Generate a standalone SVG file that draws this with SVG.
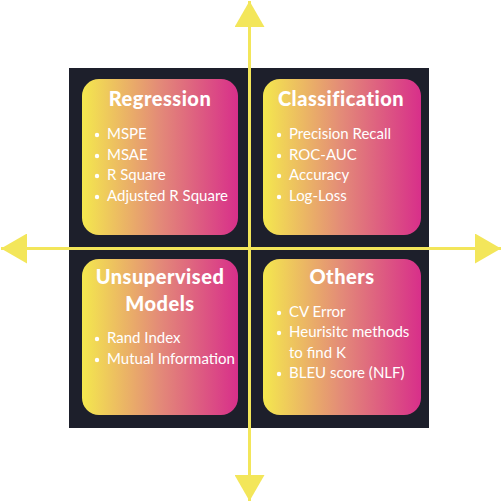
<svg xmlns="http://www.w3.org/2000/svg" width="502" height="502" viewBox="0 0 502 502">
<defs>
<linearGradient id="g" x1="0" y1="0" x2="1" y2="0">
<stop offset="0" stop-color="#f4e84e"/>
<stop offset="0.5" stop-color="#e38a78"/>
<stop offset="1" stop-color="#d82f8a"/>
</linearGradient>
<marker id="ah" viewBox="0 0 26 30" refX="26" refY="15" markerWidth="26" markerHeight="30" markerUnits="userSpaceOnUse" orient="auto">
<path d="M0,0 L26,15 L0,30 Z" fill="#f3e65a"/>
</marker>
<style>
.t{font-family:Lato,"Liberation Sans",sans-serif;font-weight:900;font-size:20px;letter-spacing:0.5px;fill:#fff;text-anchor:middle}
.b{font-family:Lato,"Liberation Sans",sans-serif;font-weight:400;font-size:15px;fill:#fff}
.axis{stroke:#f3e65a;stroke-width:3;fill:none}
</style>
</defs>
<rect x="69" y="68" width="360" height="360" fill="#1d1f2b"/>
<g id="regression">
<rect fill="url(#g)" x="82" y="79" width="156" height="156" rx="17"/>
<text class="t" x="160" y="106">Regression</text>
<g fill="#fff">
<circle cx="97" cy="135" r="2.2"/><text class="b" x="107" y="139">MSPE</text>
<circle cx="97" cy="156" r="2.2"/><text class="b" x="107" y="160">MSAE</text>
<circle cx="97" cy="176" r="2.2"/><text class="b" x="107" y="180">R Square</text>
<circle cx="97" cy="197" r="2.2"/><text class="b" x="107" y="201">Adjusted R Square</text>
</g>
</g>
<g id="classification">
<rect fill="url(#g)" x="263" y="79" width="158" height="156" rx="17"/>
<text class="t" x="341" y="106">Classification</text>
<g fill="#fff">
<circle cx="279" cy="135" r="2.2"/><text class="b" x="289" y="139">Precision Recall</text>
<circle cx="279" cy="156" r="2.2"/><text class="b" x="289" y="160">ROC-AUC</text>
<circle cx="279" cy="176" r="2.2"/><text class="b" x="289" y="180">Accuracy</text>
<circle cx="279" cy="197" r="2.2"/><text class="b" x="289" y="201">Log-Loss</text>
</g>
</g>
<g id="unsupervised">
<rect fill="url(#g)" x="82" y="259" width="156" height="156" rx="17"/>
<text class="t" x="160" y="284">Unsupervised</text>
<text class="t" x="160" y="311">Models</text>
<g fill="#fff">
<circle cx="97" cy="339" r="2.2"/><text class="b" x="107" y="343">Rand Index</text>
<circle cx="97" cy="360" r="2.2"/><text class="b" x="107" y="364">Mutual Information</text>
</g>
</g>
<g id="others">
<rect fill="url(#g)" x="263" y="259" width="158" height="156" rx="17"/>
<text class="t" x="342" y="284">Others</text>
<g fill="#fff">
<circle cx="279" cy="313" r="2.2"/><text class="b" x="289" y="317">CV Error</text>
<circle cx="279" cy="333" r="2.2"/><text class="b" x="289" y="337">Heurisitc methods</text>
<text class="b" x="289" y="358">to find K</text>
<circle cx="279" cy="374" r="2.2"/><text class="b" x="289" y="378">BLEU score (NLF)</text>
</g>
</g>
<g id="connectors">
<line class="axis" x1="249.5" y1="251" x2="249.5" y2="1" marker-end="url(#ah)"/>
<line class="axis" x1="249.5" y1="247" x2="249.5" y2="501" marker-end="url(#ah)"/>
<line class="axis" x1="251" y1="248.5" x2="1" y2="248.5" marker-end="url(#ah)"/>
<line class="axis" x1="248" y1="248.5" x2="501" y2="248.5" marker-end="url(#ah)"/>
</g>
</svg>
